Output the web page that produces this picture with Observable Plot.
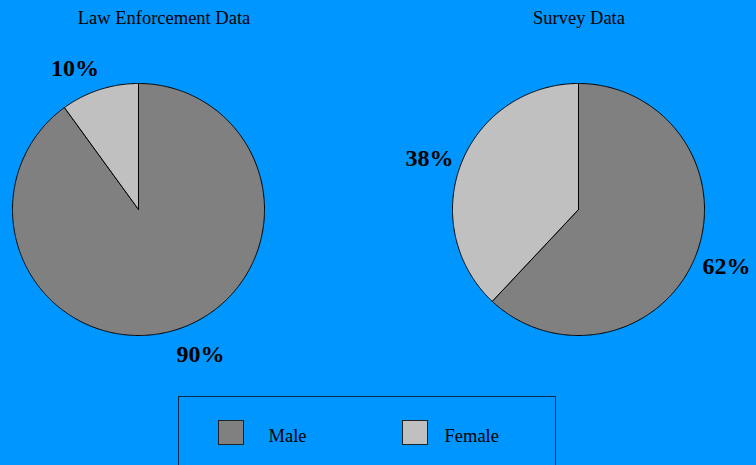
<!DOCTYPE html>
<html>
<head>
<meta charset="utf-8">
<script src="https://cdn.jsdelivr.net/npm/d3@7"></script>
<script src="https://cdn.jsdelivr.net/npm/@observablehq/plot@0.6"></script>
<style>
  html, body { margin: 0; padding: 0; background: #0096ff; }
  #chart svg { display: block; }
</style>
</head>
<body>
<div id="chart"></div>
<script>
// ---- data ----
const categories = ["Male", "Female"];
const lawValues = [90, 10];
const surveyValues = [62, 38];
const chartTitles = ["Law Enforcement Data", "Survey Data"];
const sliceColors = ["#808080", "#c0c0c0"];

// ---- layout ----
const W = 756, H = 465;
const R = 126;
const LABEL_R = 157;
const pies = [
  {title: chartTitles[0], values: lawValues, cx: 138, cy: 209, tx: 163.5, nudge: [[13.5, -5], [-15, 8]]},
  {title: chartTitles[1], values: surveyValues, cx: 578, cy: 209, tx: 578.5, nudge: [[2, -1], [-3, 6.5]]}
];

const slicePts = [];
const labels = [];
const titles = [];
pies.forEach((p, pi) => {
  titles.push({x: p.tx, y: 18, text: p.title});
  const arcs = d3.pie().sort(null).value(d => d)(p.values);
  arcs.forEach((a, i) => {
    const key = pi + "-" + i;
    const col = sliceColors[i];
    slicePts.push({key, color: col, x: p.cx, y: p.cy});
    const n = Math.max(2, Math.ceil((a.endAngle - a.startAngle) / (Math.PI / 360)));
    for (let k = 0; k <= n; k++) {
      const t = a.startAngle + (a.endAngle - a.startAngle) * k / n;
      slicePts.push({key, color: col, x: p.cx + R * Math.sin(t), y: p.cy - R * Math.cos(t)});
    }
    slicePts.push({key, color: col, x: p.cx, y: p.cy});
    const mid = (a.startAngle + a.endAngle) / 2;
    labels.push({
      x: p.cx + LABEL_R * Math.sin(mid) + p.nudge[i][0],
      y: p.cy - LABEL_R * Math.cos(mid) + p.nudge[i][1],
      text: a.data + "%"
    });
  });
});

const legendItems = categories.map((c, i) => ({
  label: c, color: sliceColors[i], x1: 218.5 + i * 184, x2: 243.5 + i * 184, y1: 420.5, y2: 444.5, tx: 268 + i * 176
}));

const chart = Plot.plot({
  width: W,
  height: H,
  margin: 0,
  x: {domain: [0, W], axis: null},
  y: {domain: [0, H], reverse: true, axis: null},
  color: {type: "identity"},
  style: {background: "#0096ff", fontFamily: "'Liberation Serif', 'Times New Roman', serif"},
  marks: [
    Plot.line(slicePts, {x: "x", y: "y", z: "key", fill: "color", stroke: "black", strokeWidth: 1, strokeLinejoin: "round", curve: "linear"}),
    Plot.text(titles, {x: "x", y: "y", text: "text", fontSize: 18.5, fill: "black"}),
    Plot.text(labels, {x: "x", y: "y", text: "text", fontSize: 24, fontWeight: "bold", fill: "black"}),
    Plot.rect([{x1: 178.5, x2: 555.5, y1: 396.5, y2: 480}], {x1: "x1", x2: "x2", y1: "y1", y2: "y2", fill: "none", stroke: "#0a2a4a", strokeWidth: 1}),
    Plot.rect(legendItems, {x1: "x1", x2: "x2", y1: "y1", y2: "y2", fill: "color", stroke: "#222", strokeWidth: 1}),
    Plot.text(legendItems, {x: "tx", y: 436, text: "label", textAnchor: "start", fontSize: 18.5, fill: "black"})
  ]
});
document.getElementById("chart").appendChild(chart);
</script>
</body>
</html>
